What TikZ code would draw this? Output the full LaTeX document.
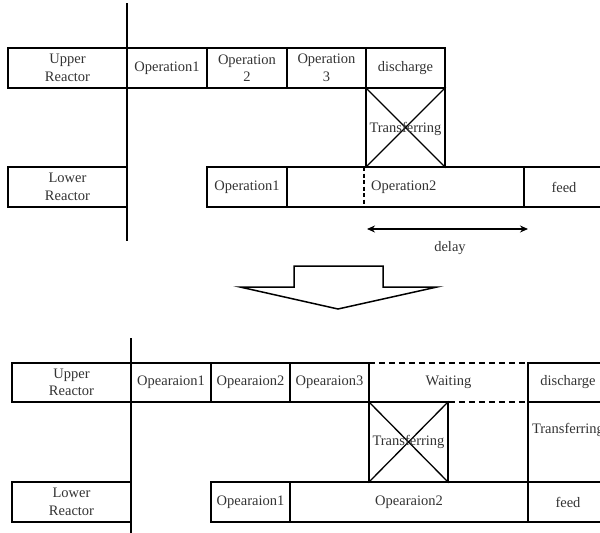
\documentclass[tikz,border=0pt]{standalone}
\usepackage{fontspec}
\setmainfont{Liberation Serif}
\usetikzlibrary{arrows.meta}
\begin{document}
\begin{tikzpicture}[x=1pt,y=-1pt,
  box/.style={draw,line width=1.5pt,inner sep=0pt,align=center,text=black!80,
    font=\fontsize{14.5}{17.5}\selectfont},
  lbl/.style={inner sep=0pt,align=center,text=black!80,font=\fontsize{14.5}{17.5}\selectfont},
  xline/.style={line width=1.3pt},
  axis/.style={line width=2.2pt}]
\useasboundingbox (0,0) rectangle (600,533);
\clip (0,0) rectangle (600,533);
% ---------- top ----------
\coordinate (va) at (127,3);
\coordinate (vb) at (127,241);
\node[box,minimum width=119pt,minimum height=40pt] (ur) at (67.5,68) {Upper\\Reactor};
\node[box,minimum width=80pt,minimum height=40pt] (t1) at (167,68) {Operation1};
\node[box,minimum width=80pt,minimum height=40pt] (t2) at (247,68) {Operation\\2};
\node[box,minimum width=79pt,minimum height=40pt] (t3) at (326.5,68) {Operation\\3};
\node[box,minimum width=79pt,minimum height=40pt] (td) at (405.5,68) {discharge};
\node[box,minimum width=79pt,minimum height=79pt] (tx) at (405.5,127.5) {};
\draw[xline] (tx.north west) -- (tx.south east) (tx.north east) -- (tx.south west);
\node[lbl] (txl) at (405.5,129) {Transferring};
\node[box,minimum width=119pt,minimum height=40pt] (lr) at (67.5,187) {Lower\\Reactor};
\node[box,minimum width=80pt,minimum height=40pt] (l1) at (247,187) {Operation1};
\node[box,minimum width=237pt,minimum height=40pt] (l2) at (405.5,187) {};
\coordinate (da) at (364,167);
\coordinate (db) at (364,207);
\draw[line width=1.4pt,white] (da) -- (db);
\draw[line width=1.4pt,dashed,dash pattern=on 4pt off 2.5pt] (da) -- (db);
\node[lbl,anchor=west] (l2t) at (371,187) {Operation2};
\node[box,minimum width=80pt,minimum height=40pt] (lf) at (564,187) {feed};
\draw[axis] (va) -- (vb);
\coordinate (ea) at (367,229);
\coordinate (eb) at (528,229);
\draw[line width=2.2pt,{Stealth[length=8pt,width=7pt]}-{Stealth[length=8pt,width=7pt]}] (ea) -- (eb);
\node[lbl] (delay) at (450,248) {delay};
% ---------- big arrow ----------
\draw[line width=1.5pt,line join=miter]
  (294,266) -- (383,266) -- (383,287) -- (437,287) -- (338,309) -- (240,287) -- (294,287) -- cycle;
% ---------- bottom ----------
\coordinate (wa) at (131,338);
\coordinate (wb) at (131,533);
\node[box,minimum width=119pt,minimum height=39pt] (ur2) at (71.5,382.5) {Upper\\Reactor};
\node[box,minimum width=80pt,minimum height=39pt] (b1) at (171,382.5) {Opearaion1};
\node[box,minimum width=79pt,minimum height=39pt] (b2) at (250.5,382.5) {Opearaion2};
\node[box,minimum width=79pt,minimum height=39pt] (b3) at (329.5,382.5) {Opearaion3};
\node[lbl,minimum width=159pt,minimum height=39pt] (bw) at (448.5,382.5) {Waiting};
\draw[line width=1.5pt,dashed,dash pattern=on 6pt off 4pt] (bw.north west) -- (bw.north east);
\draw[line width=1.5pt,dashed,dash pattern=on 6pt off 4pt] (bw.south west) -- (bw.south east);
\node[box,minimum width=80pt,minimum height=39pt] (bd) at (568,382.5) {discharge};
\node[box,minimum width=80pt,minimum height=80pt] (bt) at (568,442) {};
\node[lbl] (btl) at (568,430) {Transferring};
\node[box,minimum width=79pt,minimum height=80pt] (bx) at (408.5,442) {};
\draw[xline] (bx.north west) -- (bx.south east) (bx.north east) -- (bx.south west);
\node[lbl] (bxl) at (408.5,442) {Transferring};
\node[box,minimum width=119pt,minimum height=40pt] (lr2) at (71.5,502) {Lower\\Reactor};
\node[box,minimum width=79pt,minimum height=40pt] (bl1) at (250.5,502) {Opearaion1};
\node[box,minimum width=238pt,minimum height=40pt] (bl2) at (409,502) {Opearaion2};
\node[box,minimum width=80pt,minimum height=40pt] (bf) at (568,502) {feed};
\draw[axis] (wa) -- (wb);
\end{tikzpicture}
\end{document}
